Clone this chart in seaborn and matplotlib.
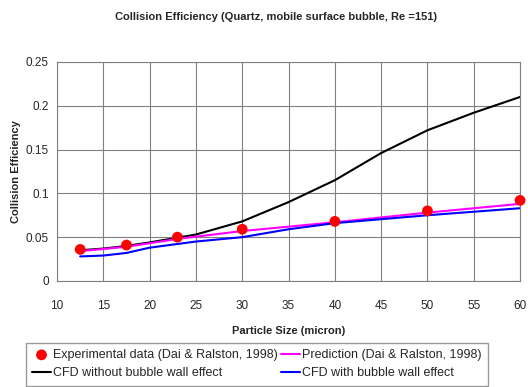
import matplotlib
matplotlib.use("Agg")
import matplotlib.pyplot as plt
import seaborn as sns
import pandas as pd

# Data
exp_x = [12.5, 17.5, 23, 30, 40, 50, 60]
exp_y = [0.036, 0.041, 0.050, 0.059, 0.068, 0.080, 0.092]

pred_x = [12.5, 17.5, 23, 30, 40, 50, 60]
pred_y = [0.034, 0.039, 0.048, 0.057, 0.067, 0.078, 0.088]

cfd_no_x = [12.5, 15, 17.5, 20, 25, 30, 35, 40, 45, 50, 55, 60]
cfd_no_y = [0.035, 0.037, 0.040, 0.044, 0.053, 0.068, 0.090, 0.115, 0.146, 0.172, 0.192, 0.210]

cfd_with_x = [12.5, 15, 17.5, 20, 25, 30, 35, 40, 50, 60]
cfd_with_y = [0.028, 0.029, 0.032, 0.038, 0.045, 0.050, 0.059, 0.066, 0.075, 0.083]

x_ticks = [10, 15, 20, 25, 30, 35, 40, 45, 50, 55, 60]
y_ticks = [0, 0.05, 0.1, 0.15, 0.2, 0.25]
y_tick_labels = ["0", "0.05", "0.1", "0.15", "0.2", "0.25"]

sns.set_theme(style="white")
plt.rcParams['font.family'] = ['Liberation Sans', 'DejaVu Sans']

fig = plt.figure(figsize=(5.28, 3.87), dpi=100)
ax = fig.add_axes([0.108, 0.274, 0.877, 0.566])

sns.lineplot(x=cfd_no_x, y=cfd_no_y, ax=ax, color="black", lw=1.5,
             label="CFD without bubble wall effect")
sns.lineplot(x=pred_x, y=pred_y, ax=ax, color="#ff00ff", lw=1.5,
             label="Prediction (Dai & Ralston, 1998)")
sns.lineplot(x=cfd_with_x, y=cfd_with_y, ax=ax, color="#0000ff", lw=1.5,
             label="CFD with bubble wall effect")
sns.scatterplot(x=exp_x, y=exp_y, ax=ax, color="#ff0000", s=60, edgecolor="none",
                marker="o", label="Experimental data (Dai & Ralston, 1998)", zorder=5,
                clip_on=False)

ax.set_xlim(10, 60)
ax.set_ylim(0, 0.25)
ax.set_xticks(x_ticks)
ax.set_yticks(y_ticks)
ax.set_yticklabels(y_tick_labels)
ax.tick_params(axis="y", labelsize=8.5, length=0, pad=6)
ax.tick_params(axis="x", labelsize=8.5, length=0, pad=14)
ax.grid(True, color="#808080", lw=0.8)
for s in ax.spines.values():
    s.set_color("#808080")
    s.set_linewidth(0.8)

ax.set_xlabel("Particle Size (micron)", fontsize=8, fontweight="bold", labelpad=10)
ax.set_ylabel("Collision Efficiency", fontsize=8, fontweight="bold", labelpad=3)
fig.text(0.523, 0.955, "Collision Efficiency (Quartz, mobile surface bubble, Re =151)",
         ha="center", va="center", fontsize=8, fontweight="bold")

handles, labels = ax.get_legend_handles_labels()
ax.get_legend().remove()
order = [3, 0, 1, 2]
leg = fig.legend([handles[i] for i in order], [labels[i] for i in order],
                 ncol=2, loc="upper left", bbox_to_anchor=(0.049, 0.114),
                 fontsize=9, frameon=True, fancybox=False, handlelength=1.5,
                 handletextpad=0.15, columnspacing=0.3, borderpad=0.5,
                 borderaxespad=0, labelspacing=0.5, markerscale=1.0)
leg.get_frame().set_edgecolor("#808080")
leg.get_frame().set_linewidth(1.0)

fig.savefig("out.png", dpi=100)
